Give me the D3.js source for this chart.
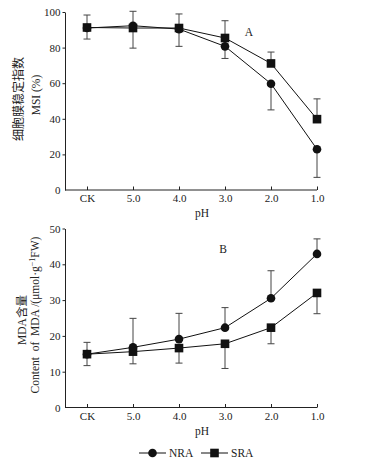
<!DOCTYPE html>
<html>
<head>
<meta charset="utf-8">
<script src="https://cdn.jsdelivr.net/npm/d3@7"></script>
<style>
  body { margin: 0; background: #fff; }
  text { font-family: "Liberation Serif", "DejaVu Serif", serif; }
  .cjk { font-family: "Noto Sans CJK SC", sans-serif; }
</style>
</head>
<body>
<div id="chart"></div>
<script>
// --- DATI ---
const categories = ["CK", "5.0", "4.0", "3.0", "2.0", "1.0"];

// A: MSI (%)
const msiNRA = [91.0, 92.3, 90.4, 80.7, 59.7, 22.9];
const msiSRA = [91.3, 91.0, 91.0, 85.4, 71.1, 39.8];
const msiNRAErr = [6.2, 12.6, 9.7, 6.8, 14.7, 15.8];   // verso il basso
const msiSRAErr = [7.0, 9.4, 7.9, 9.7, 6.4, 11.4];     // verso l'alto

// B: contenuto di MDA
const mdaNRA = [14.9, 16.8, 19.1, 22.3, 30.5, 42.9];
const mdaSRA = [14.9, 15.6, 16.6, 17.8, 22.3, 32.0];
const mdaNRAErr = [3.3, 8.1, 7.2, 5.6, 7.7, 4.2];      // verso l'alto
const mdaSRAErr = [3.2, 3.4, 4.2, 6.9, 4.5, 5.8];      // verso il basso

const msiTicks = [0, 20, 40, 60, 80, 100];
const mdaTicks = [0, 10, 20, 30, 40, 50];

// --- SETUP ---
const width = 381, height = 467;
const svg = d3.select("#chart").append("svg")
    .attr("width", width).attr("height", height);

const x = d3.scalePoint().domain(categories).range([87, 317]);
const axisLeft = 65, axisRight = 317;

function panel(cfg) {
    const y = d3.scaleLinear().domain(cfg.domain).range([cfg.bottom, cfg.top]);
    const g = svg.append("g");

    // assi
    const ya = g.append("g").attr("transform", `translate(${axisLeft},0)`)
        .call(d3.axisLeft(y).tickValues(cfg.ticks).tickSize(2.5).tickPadding(2).tickSizeOuter(0));
    ya.selectAll(".tick").filter(d => d === 0).select("line").remove();
    const xa = g.append("g").attr("transform", `translate(0,${cfg.bottom})`)
        .call(d3.axisBottom(x).tickSizeInner(-3.5).tickPadding(4.5).tickSizeOuter(0));
    xa.select(".domain").attr("d", `M${axisLeft},0H${axisRight}`);
    [ya, xa].forEach(a => {
        a.selectAll("text").attr("font-size", 11).attr("fill", "#222")
            .style("font-family", "'Liberation Serif', serif");
        a.selectAll("line, path").attr("stroke", "#222");
    });

    // barre d'errore
    cfg.bars.forEach(b => {
        b.values.forEach((v, i) => {
            const v2 = v + b.dir * b.err[i];
            const cx = x(categories[i]);
            g.append("line").attr("x1", cx).attr("x2", cx)
                .attr("y1", y(v)).attr("y2", y(v2)).attr("stroke", "#444").attr("stroke-width", 1);
            g.append("line").attr("x1", cx - 3.5).attr("x2", cx + 3.5)
                .attr("y1", y(v2)).attr("y2", y(v2)).attr("stroke", "#444").attr("stroke-width", 1);
        });
    });

    const line = d3.line().x((d, i) => x(categories[i])).y(d => y(d));
    cfg.series.forEach(s => {
        g.append("path").attr("d", line(s.values)).attr("fill", "none")
            .attr("stroke", "#111").attr("stroke-width", 1);
    });
    cfg.series.forEach(s => {
        s.values.forEach((v, i) => {
            const cx = x(categories[i]), cy = y(v);
            if (s.shape === "circle")
                g.append("circle").attr("cx", cx).attr("cy", cy).attr("r", 4.3).attr("fill", "#111");
            else
                g.append("rect").attr("x", cx - 4.3).attr("y", cy - 4.3)
                    .attr("width", 8.6).attr("height", 8.6).attr("fill", "#111");
        });
    });

    g.append("text").attr("x", (axisLeft + axisRight) / 2 + 11).attr("y", cfg.bottom + 27)
        .attr("text-anchor", "middle").attr("font-size", 11.5).attr("fill", "#222").text("pH");
    g.append("text").attr("x", cfg.labelX).attr("y", cfg.labelY)
        .attr("text-anchor", "middle").attr("font-size", 11.5).attr("fill", "#222").text(cfg.label);

    const cy = (cfg.top + cfg.bottom) / 2;
    cfg.ylabels.forEach(l => {
        g.append("text").attr("class", l.cjk ? "cjk" : null)
            .attr("transform", `translate(${l.x},${cy + (l.dy || 0)}) rotate(-90)`)
            .attr("text-anchor", "middle").attr("font-size", l.size).attr("fill", "#222")
            .html(l.text);
    });
}

panel({
    domain: [0, 100], ticks: msiTicks, top: 12, bottom: 190,
    label: "A", labelX: 249, labelY: 36,
    series: [{ values: msiSRA, shape: "rect" }, { values: msiNRA, shape: "circle" }],
    bars: [{ values: msiSRA, err: msiSRAErr, dir: 1 }, { values: msiNRA, err: msiNRAErr, dir: -1 }],
    ylabels: [
        { x: 23, text: "细胞膜稳定指数", size: 12, cjk: true, dy: -2 },
        { x: 40, text: "MSI (%)", size: 11.5, dy: -6 }
    ]
});

panel({
    domain: [0, 50], ticks: mdaTicks, top: 228.5, bottom: 407.5,
    label: "B", labelX: 223, labelY: 253,
    series: [{ values: mdaNRA, shape: "circle" }, { values: mdaSRA, shape: "rect" }],
    bars: [{ values: mdaNRA, err: mdaNRAErr, dir: 1 }, { values: mdaSRA, err: mdaSRAErr, dir: -1 }],
    ylabels: [
        { x: 26, text: "MDA<tspan class='cjk' font-size='11.5'>含量</tspan>", size: 11.5, dy: 2 },
        { x: 39, text: "Content&#160; of&#160; MDA /(μmol·g<tspan dy='-4' font-size='8'>−1</tspan><tspan dy='4'>FW)</tspan>", size: 11.5, dy: -3 }
    ]
});

// --- LEGENDA ---
const legend = svg.append("g").attr("transform", "translate(0,453)");
[{ name: "NRA", shape: "circle", x0: 139 }, { name: "SRA", shape: "rect", x0: 201 }].forEach(d => {
    legend.append("line").attr("x1", d.x0).attr("x2", d.x0 + 27).attr("y1", 0).attr("y2", 0)
        .attr("stroke", "#111").attr("stroke-width", 1);
    const mx = d.x0 + 13.5;
    if (d.shape === "circle")
        legend.append("circle").attr("cx", mx).attr("cy", 0).attr("r", 4.3).attr("fill", "#111");
    else
        legend.append("rect").attr("x", mx - 4.3).attr("y", -4.3).attr("width", 8.6).attr("height", 8.6).attr("fill", "#111");
    legend.append("text").attr("x", d.x0 + 30).attr("y", 4).attr("font-size", 11.5).attr("fill", "#222").text(d.name);
});
</script>
</body>
</html>
